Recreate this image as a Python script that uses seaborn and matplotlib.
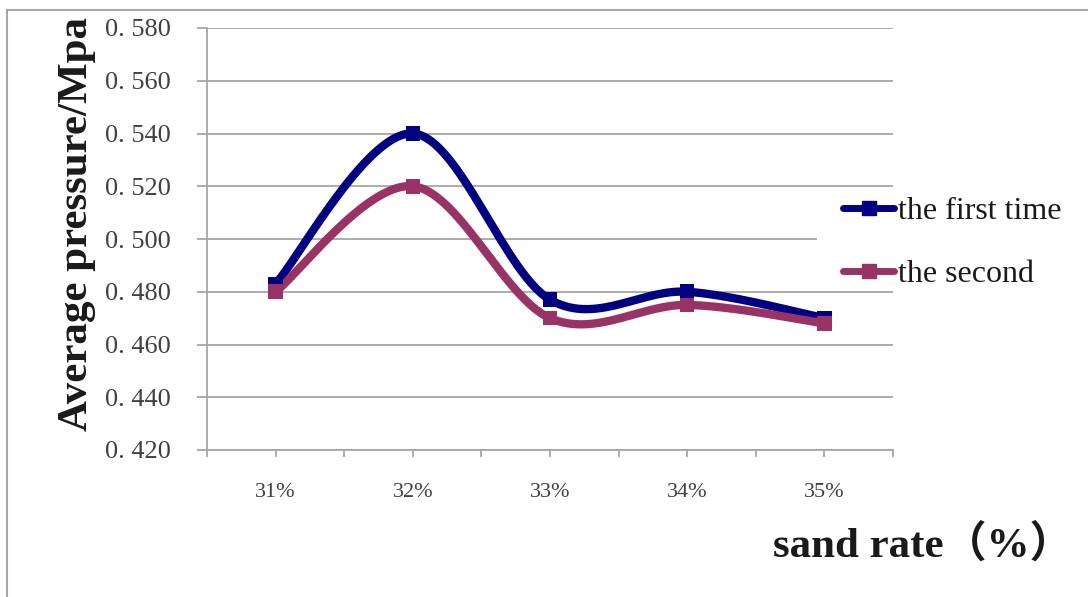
import numpy as np
import pandas as pd
import matplotlib
matplotlib.use("Agg")
import matplotlib.pyplot as plt
from matplotlib.lines import Line2D
from matplotlib.patches import Rectangle
from matplotlib.ticker import FixedLocator, FuncFormatter
import seaborn as sns

# Data
categories = ["31%", "32%", "33%", "34%", "35%"]
first_time = [0.483, 0.540, 0.477, 0.480, 0.470]
second_time = [0.480, 0.520, 0.470, 0.475, 0.468]
series_names = ["the first time", "the second"]
series_colors = ["#000080", "#993366"]
y_ticks = [0.420, 0.440, 0.460, 0.480, 0.500, 0.520, 0.540, 0.560, 0.580]

sns.set_theme(style="white")
plt.rcParams["font.family"] = ["Liberation Serif", "Noto Sans CJK SC", "DejaVu Sans"]

W, H = 1088, 597


def smooth(xs, ys, n=60):
    """Catmull-Rom style Bezier smoothing through every point."""
    pts = np.column_stack([xs, ys]).astype(float)
    ext = np.vstack([pts[0], pts, pts[-1]])
    out = []
    t = np.linspace(0, 1, n)[:, None]
    for i in range(len(pts) - 1):
        p0, p1, p2, p3 = ext[i], ext[i + 1], ext[i + 2], ext[i + 3]
        c1 = p1 + (p2 - p0) / 6.0
        c2 = p2 - (p3 - p1) / 6.0
        seg = ((1 - t) ** 3) * p1 + 3 * ((1 - t) ** 2) * t * c1 + 3 * (1 - t) * t ** 2 * c2 + t ** 3 * p2
        out.append(seg if i == 0 else seg[1:])
    return np.vstack(out)


xpos = np.arange(len(categories))
frames = []
for name, vals in zip(series_names, [first_time, second_time]):
    s = smooth(xpos, vals)
    frames.append(pd.DataFrame({"x": s[:, 0], "y": s[:, 1], "series": name}))
curve_df = pd.concat(frames, ignore_index=True)
point_df = pd.concat(
    [pd.DataFrame({"x": xpos, "y": vals, "series": name})
     for name, vals in zip(series_names, [first_time, second_time])],
    ignore_index=True,
)

fig = plt.figure(figsize=(W / 100, H / 100), dpi=100)
ax = fig.add_axes([207 / W, 1 - 450 / H, (893 - 207) / W, (450 - 28) / H])

palette = dict(zip(series_names, series_colors))
sns.lineplot(data=curve_df, x="x", y="y", hue="series", units="series", estimator=None,
             sort=False, palette=palette, linewidth=6, legend=False, ax=ax, zorder=3)
sns.scatterplot(data=point_df, x="x", y="y", hue="series", palette=palette, marker="s",
                s=110, linewidth=0, legend=False, ax=ax, zorder=4)

ax.set_xlim(-0.5, len(categories) - 0.5)
ax.set_ylim(y_ticks[0], y_ticks[-1])

grid_c = "#a6a6a6"
ax.yaxis.set_major_locator(FixedLocator(y_ticks))
ax.yaxis.set_major_formatter(FuncFormatter(lambda v, p: f"{v:.3f}".replace(".", ". ")))
ax.grid(axis="y", color=grid_c, linewidth=1.3)
ax.grid(axis="x", visible=False)
ax.set_axisbelow(True)

ax.set_xticks(xpos)
ax.set_xticklabels(categories)
ax.set_xticks(np.arange(-0.5, len(categories), 1.0), minor=True)

for side in ["top", "right"]:
    ax.spines[side].set_visible(False)
for side in ["left", "bottom"]:
    ax.spines[side].set_color(grid_c)
    ax.spines[side].set_linewidth(1.3)

ax.tick_params(axis="y", which="major", left=True, length=7, width=1.3, color=grid_c,
               labelsize=19, labelcolor="#404040", pad=19)
ax.tick_params(axis="x", which="both", bottom=True, length=5, width=1.3, color=grid_c,
               direction="out")
ax.tick_params(axis="x", which="major", labelsize=16, labelcolor="#404040", pad=19)

ax.set_xlabel("")
ax.set_ylabel("")

fig.text(77 / W, 1 - 224 / H, "Average pressure/Mpa", rotation=90, fontsize=31,
         fontweight="bold", color="#1a1a1a", ha="center", va="center")
fig.text(923 / W, 1 - 545 / H, "sand rate（%）", fontsize=31, fontweight="bold",
         color="#1a1a1a", ha="center", va="center")

# White backing behind the legend entries
fig.add_artist(Rectangle((817 / W, 1 - 288 / H), (W - 817) / W, 93 / H,
                         transform=fig.transFigure, facecolor="white", edgecolor="none", zorder=2))

handles = [Line2D([0], [0], color=c, linewidth=5, marker="s", markersize=10) for c in series_colors]
leg = fig.legend(handles, series_names, loc="center left",
                 bbox_to_anchor=(827 / W, 1 - 243 / H), frameon=False, fontsize=23,
                 handlelength=1.6, handletextpad=0.12, labelspacing=1.05, borderpad=0.0)
for t in leg.get_texts():
    t.set_color("#1a1a1a")

# Chart-area border along the top and left
fig.add_artist(Line2D([7 / W, 1.0], [1 - 10 / H, 1 - 10 / H], color="#a6a6a6", linewidth=1.5))
fig.add_artist(Line2D([7 / W, 7 / W], [0.0, 1 - 10 / H], color="#a6a6a6", linewidth=1.5))

fig.savefig("out.png", dpi=100)
